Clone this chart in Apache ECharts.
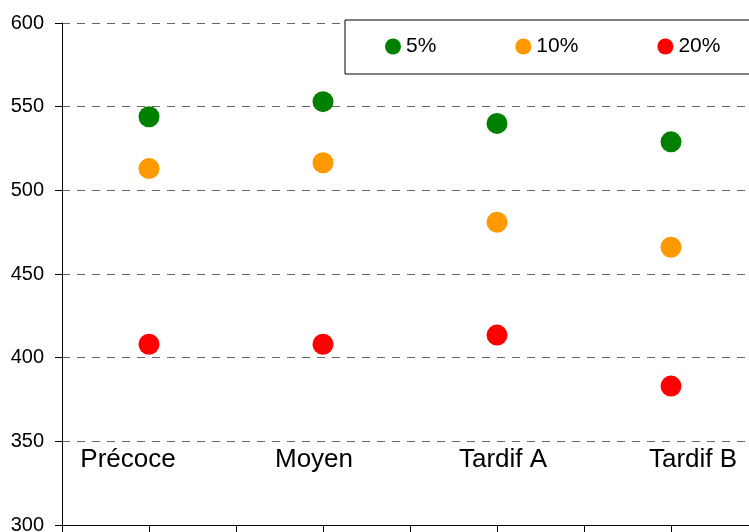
<!DOCTYPE html>
<html>
<head>
<meta charset="utf-8">
<script src="https://cdn.jsdelivr.net/npm/echarts@6/dist/echarts.min.js"></script>
<style>
html,body{margin:0;padding:0;background:#fff;}
#chart{width:749px;height:532px;}
</style>
</head>
<body>
<div id="chart"></div>
<script>
const categories = ['Précoce', 'Moyen', 'Tardif A', 'Tardif B'];
const seriesNames = ['5%', '10%', '20%'];
const values5 = [544, 553, 540, 529];
const values10 = [513, 516.5, 481, 466];
const values20 = [408, 408, 413.5, 383];
const yTicks = { min: 300, max: 600, step: 50 };

const colors = ['#008000', '#FF9900', '#FF0000'];
const labelShift = [-21, -9, 6, 22]; // horizontal nudge of category text
const FONT = 'Liberation Sans, Arial, sans-serif';

const rich = {};
labelShift.forEach((s, i) => {
  rich['c' + i] = {
    fontSize: 26, fontFamily: FONT, color: '#000',
    padding: s < 0 ? [0, -2 * s, 0, 0] : [0, 0, 0, 2 * s]
  };
});

const chart = echarts.init(document.getElementById('chart'), null, { renderer: 'canvas' });
const allValues = [values5, values10, values20];
chart.setOption({
  animation: false,
  backgroundColor: '#fff',
  grid: { left: 62, top: 23, bottom: 7, right: -9, containLabel: false, outerBoundsMode: 'none' },
  legend: {
    data: seriesNames,
    left: 345, top: 20,
    width: 345,
    orient: 'horizontal',
    icon: 'circle',
    itemWidth: 16, itemHeight: 16,
    itemGap: 79,
    padding: [16, 40, 17, 40],
    borderColor: '#000', borderWidth: 1,
    backgroundColor: '#fff',
    textStyle: { fontSize: 21, fontFamily: FONT, color: '#000' },
    z: 10
  },
  xAxis: [
    {
      type: 'value', min: 0, max: categories.length, interval: 0.5,
      axisLine: { show: true, lineStyle: { color: '#000', width: 1 } },
      axisTick: { show: true, length: 7, lineStyle: { color: '#000' } },
      axisLabel: { show: false },
      splitLine: { show: false }
    },
    {
      type: 'category', data: categories, boundaryGap: true, position: 'bottom',
      axisLine: { show: false }, axisTick: { show: false },
      axisLabel: {
        inside: true, margin: 52, interval: 0,
        formatter: (v, i) => '{c' + i + '|' + v + '}',
        rich: rich
      },
      splitLine: { show: false }
    }
  ],
  yAxis: {
    type: 'value', min: yTicks.min, max: yTicks.max, interval: yTicks.step,
    axisLine: { show: true, lineStyle: { color: '#000', width: 1 } },
    axisTick: { show: true, length: 7, lineStyle: { color: '#000' } },
    axisLabel: { fontSize: 20, fontFamily: FONT, color: '#000', margin: 18 },
    splitLine: { show: true, lineStyle: { color: '#666', type: [8, 7], width: 1 } }
  },
  series: seriesNames.map((name, k) => ({
    name: name,
    type: 'scatter',
    xAxisIndex: 1,
    symbol: 'circle',
    symbolSize: 21,
    itemStyle: { color: colors[k], opacity: 1 },
    data: allValues[k]
  }))
});
</script>
</body>
</html>
